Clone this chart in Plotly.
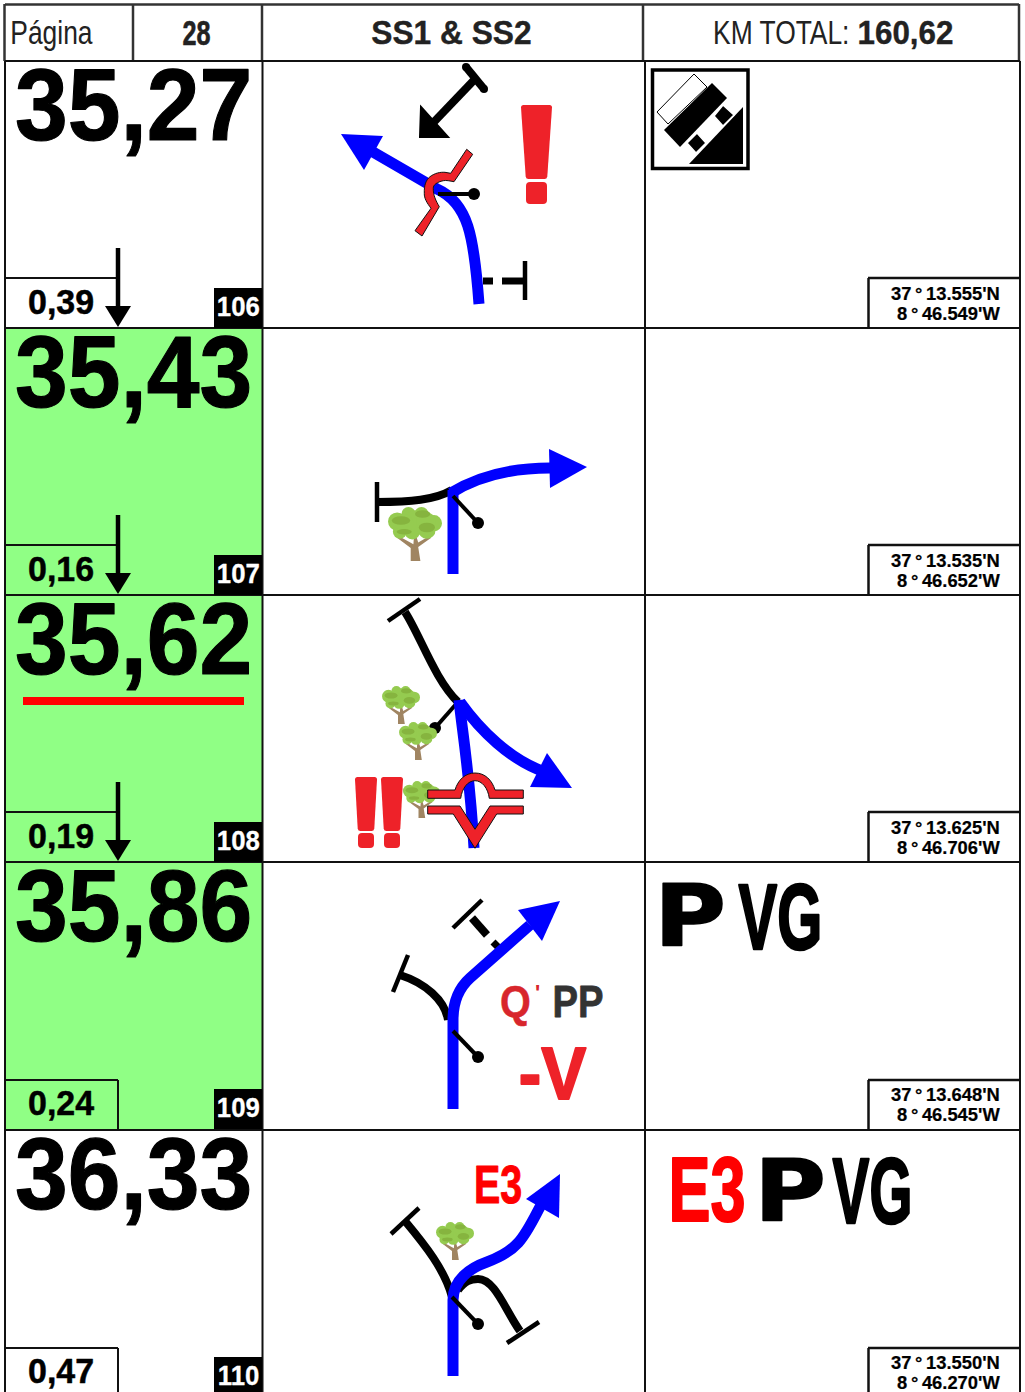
import json
import plotly.graph_objects as go

# ---------- data ----------
page_label = "Página"
page_number = "28"
route_title = "SS1 & SS2"
total_label = "KM TOTAL:"
total_value = "160,62"
km_values = ["35,27", "35,43", "35,62", "35,86", "36,33"]
partial_values = ["0,39", "0,16", "0,19", "0,24", "0,47"]
step_numbers = ["106", "107", "108", "109", "110"]
latitudes = ["37\u2009°\u200913.555'N", "37\u2009°\u200913.535'N", "37\u2009°\u200913.625'N", "37\u2009°\u200913.648'N", "37\u2009°\u200913.550'N"]
longitudes = ["8\u2009°\u200946.549'W", "8\u2009°\u200946.652'W", "8\u2009°\u200946.706'W", "8\u2009°\u200946.545'W", "8\u2009°\u200946.270'W"]
green_rows = [False, True, True, True, False]
arrow_rows = [True, True, True, False, False]
row_tops = [61, 328, 595, 862, 1130]
row_bottoms = [328, 595, 862, 1130, 1397]
pointer_dots_x = [474, 478, 435, 478, 478]
pointer_dots_y = [194, 523, 728, 1057, 1324]

BLUE = "#0000FF"
RED = "#EE2229"
PURE_RED = "#FF0000"
GREEN = "#90FF85"
LINE = "#111111"
SANS = "Liberation Sans"

shapes = []
texts = []


def path(d, color=None, width=0, fill=None):
    shapes.append(dict(type="path", path=d, xref="x", yref="y",
                       fillcolor=fill if fill else "rgba(0,0,0,0)",
                       line=dict(color=color if color else "rgba(0,0,0,0)", width=width)))


def seg(x0, y0, x1, y1, color="#000000", width=4):
    shapes.append(dict(type="line", x0=x0, y0=y0, x1=x1, y1=y1, xref="x", yref="y",
                       line=dict(color=color, width=width)))


def rect(x0, y0, x1, y1, fill=None, color=None, width=0):
    shapes.append(dict(type="rect", x0=x0, y0=y0, x1=x1, y1=y1, xref="x", yref="y",
                       fillcolor=fill if fill else "rgba(0,0,0,0)",
                       line=dict(color=color if color else "rgba(0,0,0,0)", width=width)))


def ell(cx, cy, rx, ry, fill):
    shapes.append(dict(type="circle", x0=cx - rx, y0=cy - ry, x1=cx + rx, y1=cy + ry,
                       xref="x", yref="y", fillcolor=fill, line=dict(width=0)))


def poly(points, fill, color=None, width=0):
    d = "M" + " L".join(f"{x},{y}" for x, y in points) + " Z"
    path(d, color, width, fill)


def text(s, cx, cy, size, sx=1.0, bold=True, color="#000000", family=SANS, stroke=0):
    texts.append(dict(s=s, x=cx, y=cy, size=size, sx=sx, bold=bold, color=color, family=family, stroke=stroke))


def tree(x0, y0, size):
    def P(u, v):
        return (round(x0 + u * size, 1), round(y0 + v * size, 1))
    poly([P(.42, 1), P(.6, 1), P(.56, .74), P(.8, .57), P(.76, .54), P(.56, .66), P(.53, .56),
          P(.48, .56), P(.47, .69), P(.22, .55), P(.18, .58), P(.42, .76)], "#A08562")
    for u, v, r in [(.17, .27, .17), (.38, .13, .13), (.62, .13, .13), (.85, .3, .15),
                    (.22, .46, .13), (.45, .45, .15), (.72, .43, .16), (.5, .28, .22), (.3, .3, .17), (.7, .27, .18)]:
        ell(*P(u, v), r * size, r * size, "#95CB50")
    for u, v, a, b in [(.24, .25, .17, .08), (.64, .13, .14, .07), (.72, .38, .15, .09), (.3, .46, .14, .05)]:
        ell(*P(u, v), a * size, b * size, "#86B43F")


def warning(x0, x1, y0, y1, y2, y3, inset):
    r = 2.5
    a, b = x0 + inset, x1 - inset
    path(f"M{x0+r},{y0} L{x1-r},{y0} Q{x1},{y0} {x1},{y0+r} L{b+.3},{y1-r} Q{b},{y1} {b-r},{y1} "
         f"L{a+r},{y1} Q{a},{y1} {a-.3},{y1-r} L{x0},{y0+r} Q{x0},{y0} {x0+r},{y0} Z", fill=RED)
    r = 4
    path(f"M{a+r},{y2} L{b-r},{y2} Q{b},{y2} {b},{y2+r} L{b},{y3-r} Q{b},{y3} {b-r},{y3} "
         f"L{a+r},{y3} Q{a},{y3} {a},{y3-r} L{a},{y2+r} Q{a},{y2} {a+r},{y2} Z", fill=RED)


# ---------- cell backgrounds ----------
for top, bottom, g in zip(row_tops, row_bottoms, green_rows):
    if g:
        rect(5, top, 262, bottom, fill=GREEN)

# row 3 red underline
rect(23, 697, 244, 705, fill=PURE_RED)

# ---------- grid ----------
seg(5, 4.5, 1019, 4.5, "#333333", 2.5)
seg(4.5, 4, 4.5, 61, "#333333", 2.5)
seg(1019, 4, 1019, 61, "#333333", 2.5)
seg(133, 4, 133, 61, "#333333", 2.5)
seg(262, 4, 262, 61, "#333333", 2.5)
seg(643, 4, 643, 61, "#333333", 2.5)
seg(5, 61, 1020, 61, LINE, 2)
for top in row_tops[1:]:
    seg(5, top, 1020, top, LINE, 2)
seg(5, 61, 5, 1392, LINE, 2)
seg(262.5, 61, 262.5, 1392, LINE, 2)
seg(645, 61, 645, 1392, LINE, 2)
seg(1020, 61, 1020, 1392, LINE, 2)

# ---------- left and right cell furniture ----------
for i, top in enumerate(row_tops):
    box_y = top + (217 if i < 3 else 218)
    seg(5, box_y, 118, box_y, LINE, 2)
    if arrow_rows[i]:
        seg(118, top + 187, 118, top + 246, "#000000", 4.5)
        poly([(105, top + 245), (131, top + 245), (118, top + 266)], "#000000")
    else:
        seg(118, box_y, 118, top + 267, LINE, 2)
    rect(214, top + 227, 262, min(top + 267, 1392), fill="#000000")
    seg(868.5, box_y, 868.5, top + 267, LINE, 2.5)
    seg(868, box_y, 1020, box_y, LINE, 2.5)

    text(km_values[i], 133, top + 44, 102, 0.93, stroke=1.2)
    text(partial_values[i], 61, top + 240, 35, 0.97, stroke=0.5)
    text(step_numbers[i], 238, top + 245, 28, 0.92, color="#FFFFFF", stroke=0.3)
    text(latitudes[i], 945.5, top + 233, 18, 1.02, stroke=0.2)
    text(longitudes[i], 948.5, top + 253, 18, 1.02, stroke=0.2)

# ---------- header ----------
text(page_label, 51, 32, 33, 0.8, bold=False, color="#222222")
text(page_number, 196, 32, 35, 0.72, color="#222222", stroke=0.6)
text(route_title, 451, 32, 33, 0.96, color="#222222", stroke=0.4)
text(total_label, 781, 32, 33, 0.8, bold=False, color="#222222")
text(total_value, 905, 32, 33, 0.95, color="#222222", stroke=0.4)

# ---------- row 1 glyphs ----------
seg(476, 78, 432, 124, "#000000", 8)
seg(466, 67, 484, 89, "#000000", 8)
ell(466, 67, 4, 4, "#000000")
ell(484, 89, 4, 4, "#000000")
poly([(421, 107), (448, 137), (420, 137)], "#000000", "#000000", 2)
path("M373,152 L437,189 C468,203 474,235 479,304", BLUE, 11)
poly([(341, 134), (383, 136), (364, 170)], BLUE)
seg(483, 281, 493, 281, "#000000", 7)
seg(502, 281, 524, 281, "#000000", 7)
seg(525, 261, 525, 300, "#000000", 4.5)
seg(438, 194, 474, 194, "#000000", 4)
path("M466.7,149.3 L472.7,154.3 L454,181.7 C450,181 446,180 443.3,180.7 C437,182 433,185 433.3,188.3 "
     "C433,195 436,201 439.3,206.7 L422,236 L415,230.7 L431,208.3 C427,203 424,198 424.3,193.3 "
     "C424,185 426,180 430,176.7 C435,173 440,172 445,172.3 L450.7,173.3 Z", "#111111", 1, RED)
warning(521, 552, 105, 179, 182, 204, 5)

# sign
rect(652.5, 70, 748, 168.5, fill="#FFFFFF", color="#000000", width=3.5)
poly([(743, 107), (743, 164), (689, 164)], "#000000")
poly([(694, 74), (707, 87), (668, 124), (657, 112)], "#FFFFFF", "#000000", 1)
poly([(712, 83), (727, 98), (680, 147), (664, 130)], "#000000")
poly([(723, 105), (734, 115), (723, 126), (714, 116)], "#000000", "#FFFFFF", 1.5)
poly([(697, 133), (706, 143), (696, 153), (687, 143)], "#000000", "#FFFFFF", 1.5)

# ---------- row 2 glyphs ----------
seg(377, 482, 377, 522, "#000000", 4.5)
tree(388, 507, 54)
path("M377,502 C410,502 435,500 452,490", "#000000", 8)
seg(453, 490, 453, 574, BLUE, 11)
path("M451,493 C480,475 515,468 550,468", BLUE, 11)
poly([(549, 449), (587, 467), (550, 488)], BLUE)
seg(453, 496, 478, 523, "#000000", 4)

# ---------- row 3 glyphs ----------
tree(382, 686, 38)
tree(399, 722, 38)
tree(403, 781, 37)
seg(388, 621, 420, 599, "#000000", 4.5)
path("M405,612 C420,635 435,680 458,702", "#000000", 8)
seg(457, 703, 435, 728, "#000000", 4)
path("M459,700 C462,730 470,775 474,848", BLUE, 11)
path("M460,702 C480,730 510,760 545,772", BLUE, 11)
poly([(547, 753), (572, 788), (530, 787)], BLUE)
path("M427.7,790 L455,790 C458,780 465,773 475,773 C485,773 492,780 495,790 L523.3,790 L523.3,798.3 "
     "L489.3,798.3 C488,788 482,780.7 475,780.7 C468,780.7 462,788 460.7,798.3 L427.7,798.3 Z", "#111111", 1, RED)
poly([(427.7, 806), (460, 806), (475, 829.3), (490, 806), (523.3, 806), (523.3, 814), (496.7, 814),
      (475, 848.3), (453.3, 814), (427.7, 814)], RED, "#111111", 1)
warning(355, 377, 777, 831, 833, 848, 3)
warning(381, 403, 777, 831, 833, 848, 3)

# ---------- row 4 glyphs ----------
seg(453, 928, 482, 900, "#000000", 4.5)
seg(472, 918, 487, 935, "#000000", 8)
seg(493, 942, 498, 947, "#000000", 7)
seg(393, 992, 408, 955, "#000000", 4.5)
path("M400,975 C425,983 445,1000 448,1020", "#000000", 8)
path("M453,1109 L453,1020 C453,1000 460,987 470,978 L530,925", BLUE, 11)
poly([(518, 910), (560, 901), (542, 941)], BLUE)
seg(453, 1031, 478, 1057, "#000000", 4)
text("Q", 515, 1001, 45, 0.88, color="#D8262C", stroke=0.5)
text("'", 537, 992, 22, 1.0, color="#D8262C")
text("PP", 578, 1001, 45, 0.85, color="#333333", stroke=0.8)
text("-V", 552, 1073, 75, 0.9, color=RED, stroke=2)

text("P", 690, 916, 85, 1.15, family="DejaVu Sans", stroke=1.5)
text("VG", 780, 917, 92, 0.63, stroke=2.5)

# ---------- row 5 glyphs ----------
tree(436, 1222, 38)
seg(391, 1234, 419, 1208, "#000000", 4.5)
path("M405,1221 C425,1245 445,1270 452,1297", "#000000", 8)
seg(507, 1343, 539, 1322, "#000000", 4.5)
path("M520,1331 C505,1310 495,1279 478,1279 C470,1279 465,1281 458,1290", "#000000", 8)
path("M453,1376 L453,1300 C453,1280 470,1268 487,1262 C520,1250 525,1235 541,1205", BLUE, 11)
poly([(526, 1199), (560, 1174), (559, 1218)], BLUE)
seg(452, 1297, 478, 1324, "#000000", 4)
text("E3", 498, 1184, 54, 0.73, color=PURE_RED, stroke=1)
text("E3", 707, 1190, 90, 0.7, color=PURE_RED, stroke=2)
text("P", 790, 1191, 85, 1.15, family="DejaVu Sans", stroke=1.5)
text("VG", 872, 1191, 92, 0.6, stroke=2.5)

# ---------- figure ----------
fig = go.Figure()
fig.add_trace(go.Scatter(x=pointer_dots_x, y=pointer_dots_y, mode="markers",
                         marker=dict(color="#000000", size=12, line=dict(width=0)),
                         hoverinfo="skip", showlegend=False))
annotations = [dict(text=t["s"], x=t["x"], y=t["y"], xref="x", yref="y", xanchor="center", yanchor="middle",
                    showarrow=False, borderpad=0,
                    font=dict(family=t["family"], size=t["size"], color=t["color"],
                              weight=700 if t["bold"] else 400)) for t in texts]
fig.update_layout(
    width=1025, height=1392, autosize=False, margin=dict(l=0, r=0, t=0, b=0),
    paper_bgcolor="#FFFFFF", plot_bgcolor="#FFFFFF", showlegend=False,
    xaxis=dict(range=[0, 1025], visible=False, fixedrange=True),
    yaxis=dict(range=[1392, 0], visible=False, fixedrange=True),
    shapes=shapes, annotations=annotations,
)

scales = json.dumps([t["sx"] for t in texts])
strokes = json.dumps([t["stroke"] for t in texts])
colors = json.dumps([t["color"] for t in texts])
post = """
document.documentElement.style.margin='0';document.documentElement.style.overflow='hidden';
document.body.style.margin='0';document.body.style.overflow='hidden';
var scales=%s,strokes=%s,colors=%s;
document.querySelectorAll('g.annotation').forEach(function(g){
  var i=+g.getAttribute('data-index');var t=g.querySelector('text');
  if(!t)return;
  if(strokes[i]>0){t.style.stroke=colors[i];t.style.strokeWidth=strokes[i]+'px';t.style.strokeLinejoin='round';}
  if(scales[i]===1)return;
  var b=t.getBBox();var c=b.x+b.width/2;
  t.setAttribute('transform','translate('+c+',0) scale('+scales[i]+',1) translate('+(-c)+',0)');
});
""" % (scales, strokes, colors)
fig.write_html("out.html", config=dict(displayModeBar=False), post_script=post)
